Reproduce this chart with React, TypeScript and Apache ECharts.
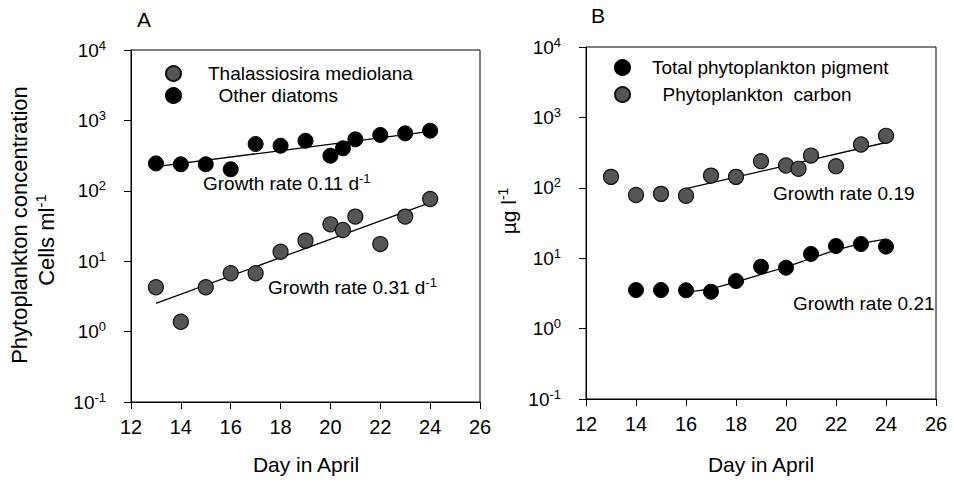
import React, { useEffect, useRef } from "react";
import * as echarts from "echarts";

// ---- Panel A data ----
const daysA = [13, 14, 15, 16, 17, 18, 19, 20, 20.5, 21, 22, 23, 24];
const otherDiatoms = [245, 238, 238, 202, 462, 437, 515, 315, 401, 538, 621, 655, 714];
const thalassiosira = [4.26, 1.38, 4.26, 6.73, 6.73, 13.6, 19.6, 33.4, 27.7, 43, 17.5, 43, 76.5];
const fitOtherDays = [13, 24];
const fitOtherVals = [220, 700];
const fitThalDays = [13, 24];
const fitThalVals = [2.52, 68];

// ---- Panel B data ----
const daysCarbon = [13, 14, 15, 16, 17, 18, 19, 20, 20.5, 21, 22, 23, 24];
const carbon = [143, 79, 82, 77, 149, 143, 239, 207, 186, 287, 203, 412, 547];
const daysPigment = [14, 15, 16, 17, 18, 19, 20, 21, 22, 23, 24];
const pigment = [3.53, 3.53, 3.5, 3.34, 4.74, 7.57, 7.33, 11.5, 14.9, 15.9, 14.6];
const fitCarbonDays = [16, 24];
const fitCarbonVals = [97.5, 440];
const fitPigDays = [16, 17, 18, 19, 20, 21, 22, 23, 24];
const fitPigVals = [3.3, 3.7, 4.6, 5.9, 7.5, 9.9, 13, 16, 18.6];

const xTicks = { min: 12, max: 26, interval: 2 };
const yRange = { min: 0.1, max: 10000 };

const FONT = "Liberation Sans, Arial, Helvetica, sans-serif";
const GRAY = "#555555";

const zip = (xs: number[], ys: number[]) => xs.map((x, i) => [x, ys[i]]);

export default function App() {
  const ref = useRef<HTMLDivElement>(null);
  useEffect(() => {
    document.body.style.margin = "0";
    const chart = echarts.init(ref.current!, null, { renderer: "svg" });
    const xAxisBase = (gridIndex: number) => ({
      type: "value",
      gridIndex,
      min: xTicks.min,
      max: xTicks.max,
      interval: xTicks.interval,
      axisLine: { show: true, lineStyle: { color: "#000", width: 1 } },
      axisTick: { show: true, inside: false, length: 7, lineStyle: { color: "#000" } },
      axisLabel: { color: "#000", fontSize: 20, fontFamily: FONT, margin: 15 },
      splitLine: { show: false },
    });
    const yAxisBase = (gridIndex: number) => ({
      type: "log",
      logBase: 10,
      gridIndex,
      min: yRange.min,
      max: yRange.max,
      axisLine: { show: true, lineStyle: { color: "#000", width: 1 } },
      axisTick: { show: true, inside: false, length: 7, lineStyle: { color: "#000" } },
      minorTick: { show: false },
      splitLine: { show: false },
      axisLabel: {
        margin: 25,
        formatter: (v: number) => `{b|10}{s|${Math.round(Math.log10(v))}}`,
        rich: {
          b: { fontSize: 19, fontFamily: FONT, color: "#000" },
          s: { fontSize: 13, fontFamily: FONT, color: "#000", padding: [0, 0, 10, 0] },
        },
      },
    });
    const scatter = (name: string, xi: number, xs: number[], ys: number[], gray: boolean) => ({
      name,
      type: "scatter",
      xAxisIndex: xi,
      yAxisIndex: xi,
      symbol: "circle",
      symbolSize: 15,
      data: zip(xs, ys),
      itemStyle: gray
        ? { color: GRAY, borderColor: "#111", borderWidth: 1.2, opacity: 1 }
        : { color: "#000", borderColor: "#000", borderWidth: 1, opacity: 1 },
      z: 3,
    });
    const fit = (xi: number, xs: number[], ys: number[], smooth = false) => ({
      type: "line",
      xAxisIndex: xi,
      yAxisIndex: xi,
      data: zip(xs, ys),
      symbol: "none",
      smooth,
      lineStyle: { color: "#000", width: 1.3 },
      z: 2,
      silent: true,
    });
    const txt = (x: number, y: number, text: string, opts: any = {}) => ({
      type: "text",
      x,
      y,
      rotation: opts.rotation || 0,
      style: {
        text,
        fontSize: opts.fontSize || 19,
        fontFamily: FONT,
        fill: "#000",
        textAlign: opts.align || "left",
        textVerticalAlign: "middle",
        rich: opts.rich,
      },
    });
    const supRich = (fs: number) => ({
      t: { fontSize: fs, fontFamily: FONT, color: "#000" },
      s: { fontSize: Math.round(fs * 0.68), fontFamily: FONT, color: "#000", padding: [0, 0, Math.round(fs * 0.5), 0] },
    });

    const option: any = {
      animation: false,
      backgroundColor: "#fff",
      grid: [
        { left: 131, top: 50, width: 349, height: 352, show: true, borderColor: "#000", borderWidth: 1, backgroundColor: "transparent" },
        { left: 586, top: 47, width: 350, height: 352, show: true, borderColor: "#000", borderWidth: 1, backgroundColor: "transparent" },
      ],
      xAxis: [xAxisBase(0), xAxisBase(1)],
      yAxis: [yAxisBase(0), yAxisBase(1)],
      legend: [
        {
          data: ["Thalassiosira mediolana", "Other diatoms"],
          orient: "vertical",
          left: 160,
          top: 59,
          itemWidth: 15,
          itemHeight: 15,
          itemGap: 3,
          icon: "circle",
          textStyle: { fontSize: 19, fontFamily: FONT, color: "#000", padding: [0, 0, 0, 22] },
          formatter: (n: string) => (n === "Other diatoms" ? "  " + n : n),
        },
        {
          data: ["Total phytoplankton pigment", "Phytoplankton  carbon"],
          orient: "vertical",
          left: 609,
          top: 53,
          itemWidth: 15,
          itemHeight: 15,
          itemGap: 8,
          icon: "circle",
          textStyle: { fontSize: 19, fontFamily: FONT, color: "#000", padding: [0, 0, 0, 17] },
          formatter: (n: string) => (n === "Phytoplankton  carbon" ? "  " + n : n),
        },
      ],
      series: [
        scatter("Thalassiosira mediolana", 0, daysA, thalassiosira, true),
        scatter("Other diatoms", 0, daysA, otherDiatoms, false),
        fit(0, fitOtherDays, fitOtherVals),
        fit(0, fitThalDays, fitThalVals),
        scatter("Total phytoplankton pigment", 1, daysPigment, pigment, false),
        scatter("Phytoplankton  carbon", 1, daysCarbon, carbon, true),
        fit(1, fitCarbonDays, fitCarbonVals),
        fit(1, fitPigDays, fitPigVals, true),
      ],
      graphic: [
        txt(137, 19, "A", { fontSize: 21 }),
        txt(591, 15, "B", { fontSize: 21 }),
        txt(306, 464, "Day in April", { fontSize: 21, align: "center" }),
        txt(761, 464, "Day in April", { fontSize: 21, align: "center" }),
        txt(19, 225, "Phytoplankton concentration", { fontSize: 22, align: "center", rotation: Math.PI / 2 }),
        txt(46, 240, "{t|Cells ml}{s|-1}", { align: "center", rotation: Math.PI / 2, rich: supRich(22) }),
        txt(508, 211, "{t|\u00b5g l}{s|-1}", { align: "center", rotation: Math.PI / 2, rich: supRich(21) }),
        txt(203, 183, "{t|Growth rate 0.11 d}{s|-1}", { rich: supRich(19) }),
        txt(268, 287, "{t|Growth rate 0.31 d}{s|-1}", { rich: supRich(19) }),
        txt(773, 193, "Growth rate 0.19", { fontSize: 19 }),
        txt(793, 303, "Growth rate 0.21", { fontSize: 19 }),
      ],
    };
    chart.setOption(option);
    return () => chart.dispose();
  }, []);
  return <div ref={ref} style={{ position: "fixed", left: 0, top: 0, width: 954, height: 489 }} />;
}
